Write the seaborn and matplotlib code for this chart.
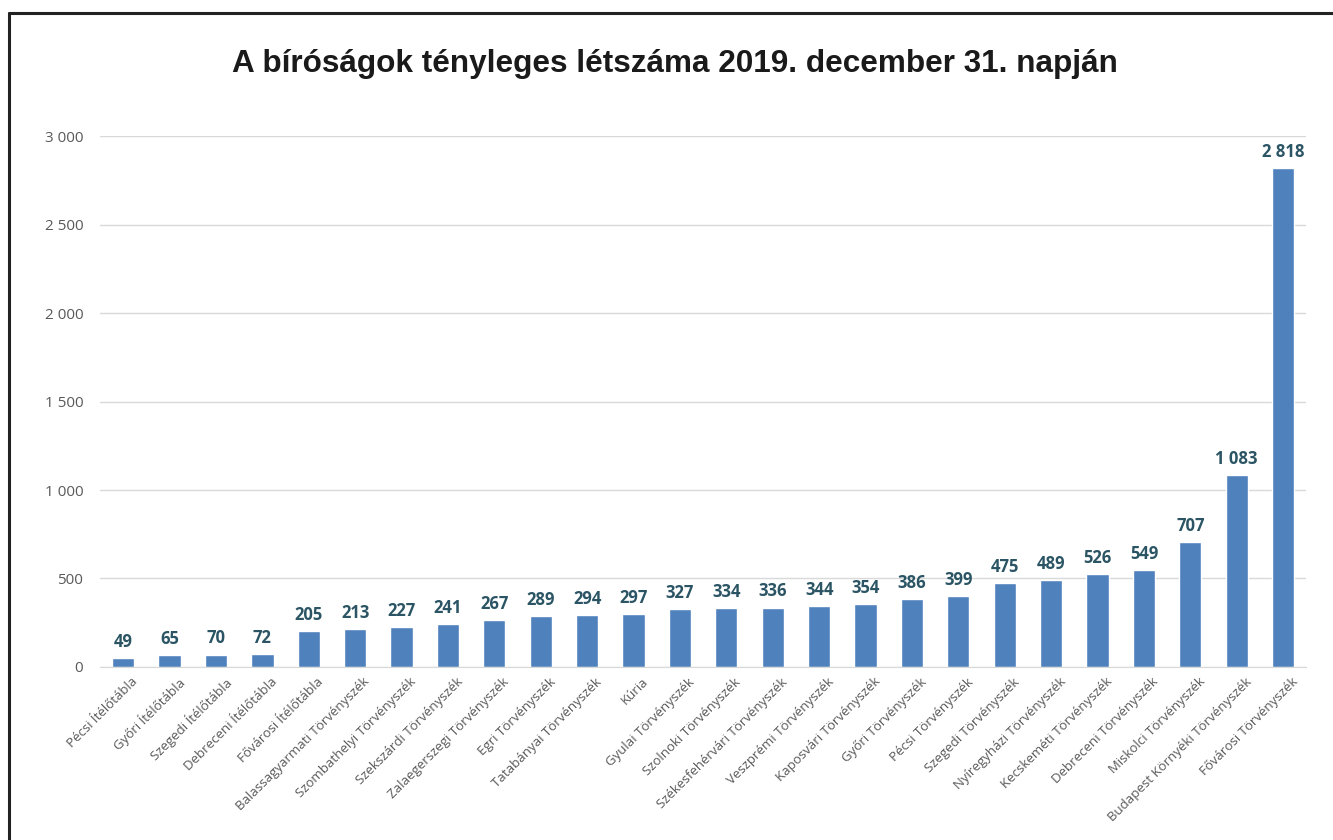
import matplotlib
matplotlib.use("Agg")
import matplotlib.pyplot as plt
import matplotlib.ticker as mticker
import matplotlib.transforms as mtransforms
from matplotlib.lines import Line2D
import pandas as pd
import seaborn as sns

TITLE = "A bíróságok tényleges létszáma 2019. december 31. napján"

birosagok = [
    "Pécsi Ítélőtábla", "Győri Ítélőtábla", "Szegedi Ítélőtábla",
    "Debreceni Ítélőtábla", "Fővárosi Ítélőtábla",
    "Balassagyarmati Törvényszék", "Szombathelyi Törvényszék",
    "Szekszárdi Törvényszék", "Zalaegerszegi Törvényszék", "Egri Törvényszék",
    "Tatabányai Törvényszék", "Kúria", "Gyulai Törvényszék",
    "Szolnoki Törvényszék", "Székesfehérvári Törvényszék",
    "Veszprémi Törvényszék", "Kaposvári Törvényszék", "Győri Törvényszék",
    "Pécsi Törvényszék", "Szegedi Törvényszék", "Nyíregyházi Törvényszék",
    "Kecskeméti Törvényszék", "Debreceni Törvényszék", "Miskolci Törvényszék",
    "Budapest Környéki Törvényszék", "Fővárosi Törvényszék",
]
letszam = [49, 65, 70, 72, 205, 213, 227, 241, 267, 289, 294, 297, 327, 334,
           336, 344, 354, 386, 399, 475, 489, 526, 549, 707, 1083, 2818]
y_ticks = [0, 500, 1000, 1500, 2000, 2500, 3000]


def fmt_hu(v):
    # magyar ezres elválasztó: szóköz
    return f"{int(v):,}".replace(",", " ")


def main():
    sns.set_style("white")
    plt.rcParams["font.family"] = ["Open Sans", "DejaVu Sans"]

    df = pd.DataFrame({"birosag": birosagok, "letszam": letszam})

    fig = plt.figure(figsize=(13.33, 8.4), dpi=100)
    ax = fig.add_axes([0.075, 0.206, 0.905, 0.632])

    sns.barplot(data=df, x="birosag", y="letszam", color="#4F81BD",
                saturation=1, width=0.48, ax=ax)

    ax.set_ylim(0, 3000)
    ax.set_xlim(-0.5, len(birosagok) - 0.5)
    ax.set_yticks(y_ticks)
    ax.yaxis.set_major_formatter(mticker.FuncFormatter(lambda v, p: fmt_hu(v)))
    ax.grid(axis="y", color="#D9D9D9", linewidth=1)
    ax.set_axisbelow(True)
    for s in ["top", "right", "left"]:
        ax.spines[s].set_visible(False)
    ax.spines["bottom"].set_color("#D9D9D9")
    ax.tick_params(axis="y", length=0, pad=12, labelsize=11, labelcolor="#595959")
    ax.tick_params(axis="x", length=0, pad=6, labelsize=9.5, labelcolor="#595959")
    ax.set_xlabel("")
    ax.set_ylabel("")
    shift = mtransforms.ScaledTranslation(0.08, 0, fig.dpi_scale_trans)
    for lab in ax.get_xticklabels():
        lab.set_rotation(45)
        lab.set_ha("right")
        lab.set_rotation_mode("anchor")
        lab.set_transform(lab.get_transform() + shift)

    for i, v in enumerate(letszam):
        ax.text(i, v + 40, fmt_hu(v), ha="center", va="bottom",
                fontsize=12, fontweight="bold", color="#2B5564")

    fig.text(0.5065, 0.924, TITLE, ha="center", va="center", fontsize=22.7,
             fontweight="bold", color="#1A1A1A", family="Liberation Sans")

    # keret (felső és bal él)
    fig.add_artist(Line2D([0.0065, 1.0], [0.9845, 0.9845], color="#222222",
                          linewidth=2.2, transform=fig.transFigure))
    fig.add_artist(Line2D([0.0065, 0.0065], [0.0, 0.9845], color="#222222",
                          linewidth=2.2, transform=fig.transFigure))

    fig.savefig("out.png", dpi=100, facecolor="white")
    plt.close(fig)


if __name__ == "__main__":
    main()
